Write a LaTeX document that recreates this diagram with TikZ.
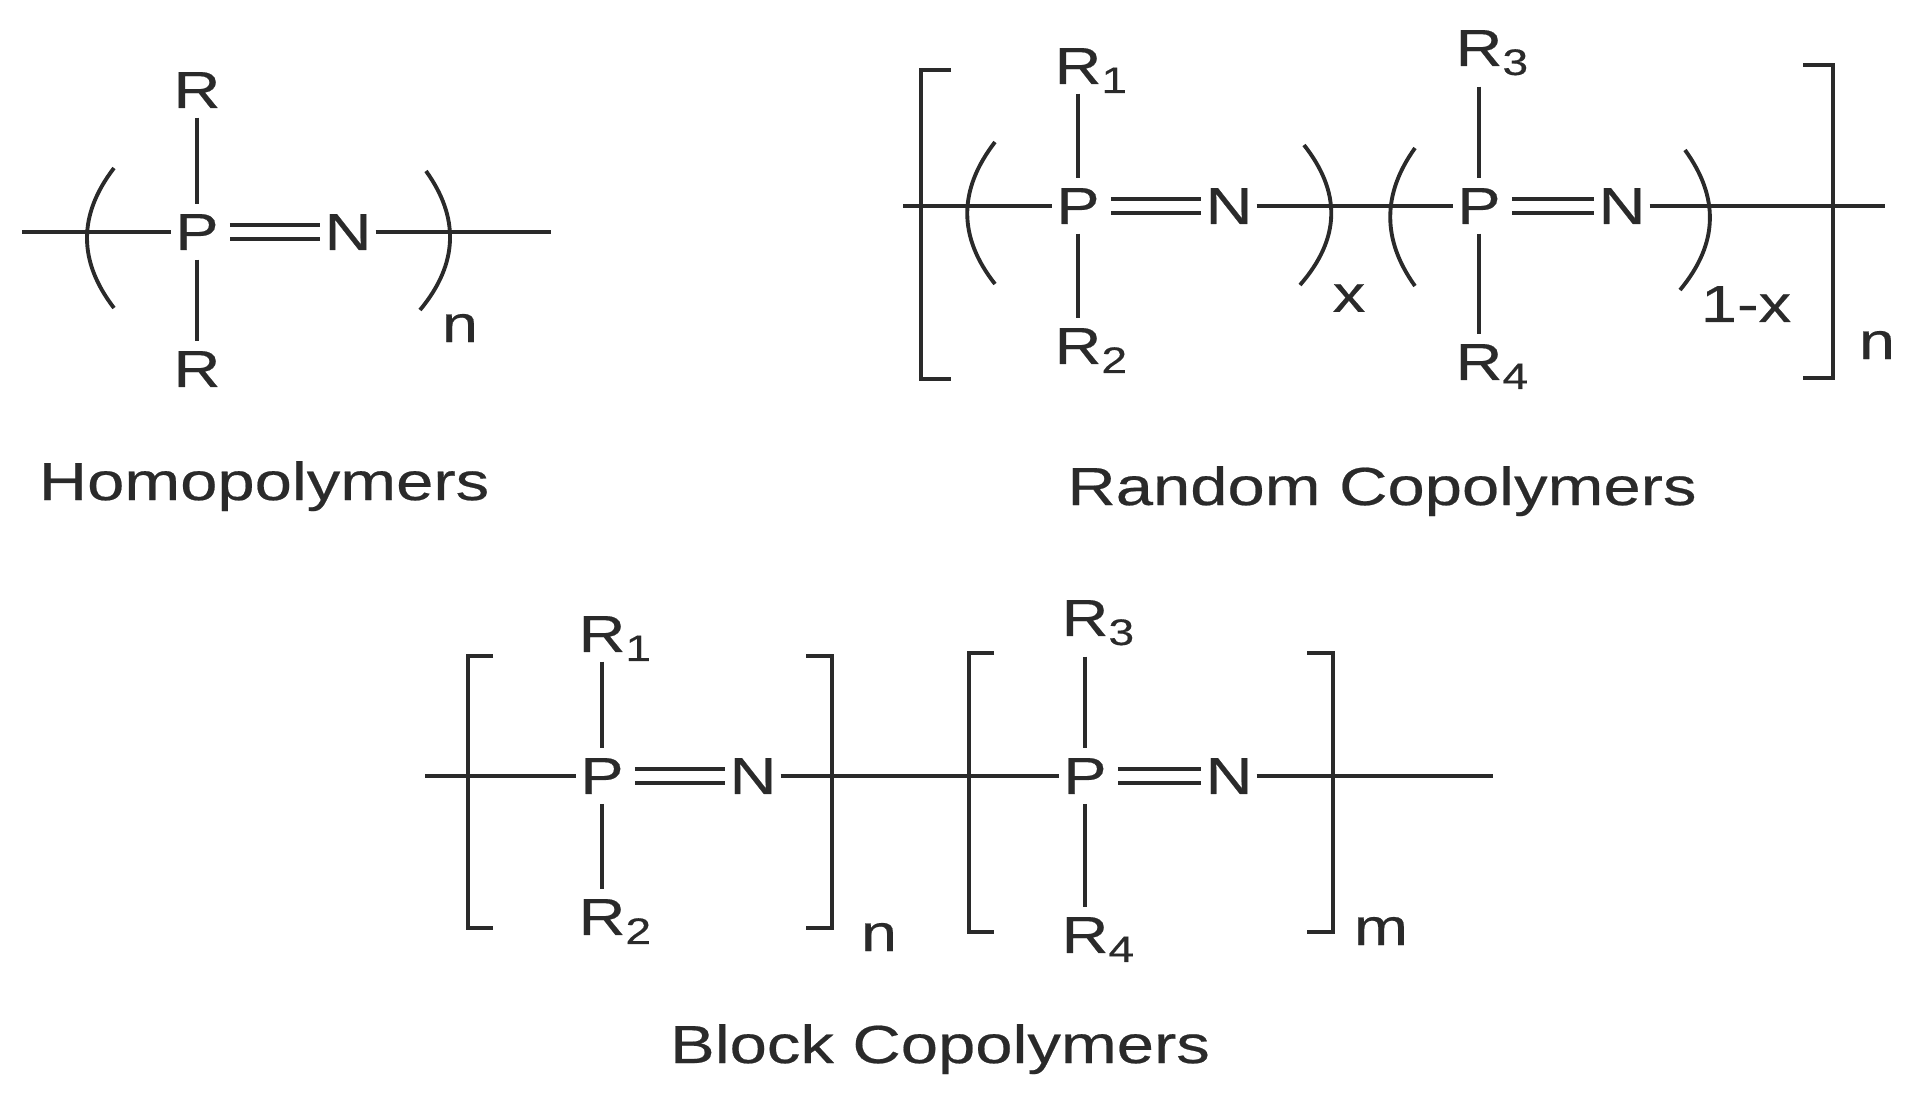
\documentclass[tikz,border=0pt]{standalone}
\usepackage{fontspec}
\setmainfont{Liberation Sans}
\newfontfamily\wideface{Liberation Sans}[FakeStretch=1.25,FakeBold=.4]
\newcommand{\rsub}[1]{R\rlap{\smash{\raisebox{-.33ex}{\fontsize{10.5}{12}\selectfont #1}}}}
\definecolor{ink}{HTML}{2A2A2A}
\tikzset{
  atom/.style={text=ink, inner xsep=1pt, inner ysep=2.6pt, font=\fontsize{14.8}{16}\selectfont\wideface},
  idx/.style={text=ink, inner sep=0pt, font=\fontsize{14.8}{16}\selectfont\wideface},
  caption/.style={text=ink, anchor=base, inner sep=0pt, font=\fontsize{15.25}{17}\selectfont\wideface},
  chain/.style={draw=ink, line width=1.3pt},
  bond/.style={draw=ink, line width=1.1pt},
  dbl/.style={draw=ink, line width=1.15pt, double, double distance=3pt, shorten <=.07cm},
  brk/.style={draw=ink, line width=1.1pt},
}
\begin{document}
\begin{tikzpicture}[node distance=1.42cm]
        \useasboundingbox (0,0) rectangle (19.10,-10.96);
        % homopolymer
        \node   (hp) [atom] at (1.97,-2.32)    {P};
        \node   (hn) [atom, right of = hp, node distance=1.51cm]    {N};
        \node   (ha) [atom, above of = hp]    {R};
        \node   (hb) [atom, below of = hp, node distance=1.37cm]    {R};
        \coordinate (hl) at (0.22,-2.32);
        \coordinate (hr) at (5.51,-2.32);
        \node   (hi) [idx] at (4.60,-3.28)    {n};
        \node   (hc) [caption] at (2.64,-5.00)    {Homopolymers};
        \draw[chain] (hl) -- (hp);
        \draw[chain] (hn) -- (hr);
        \draw[dbl] (hp) -- (hn);
        \draw[bond] (ha) -- (hp);
        \draw[bond] (hp) -- (hb);
        \draw[brk] (1.14,-1.68) .. controls (0.78,-2.15) and (0.78,-2.61) .. (1.14,-3.08);
        \draw[brk] (4.26,-1.71) .. controls (4.59,-2.17) and (4.59,-2.63) .. (4.20,-3.10);

        % random copolymer
        \node   (rp) [atom] at (10.78,-2.06)    {P};
        \node   (rn) [atom, right of = rp, node distance=1.51cm]    {N};
        \node   (ra) [atom, above of = rp, node distance=1.40cm]    {\rsub{1}};
        \node   (rb) [atom, below of = rp, node distance=1.40cm]    {\rsub{2}};
        \node   (rq) [atom] at (14.79,-2.06)    {P};
        \node   (rm) [atom, right of = rq, node distance=1.43cm]    {N};
        \node   (rc) [atom, above of = rq, node distance=1.58cm]    {\rsub{3}};
        \node   (rd) [atom, below of = rq, node distance=1.56cm]    {\rsub{4}};
        \coordinate (rl) at (9.03,-2.06);
        \coordinate (rr) at (18.85,-2.06);
        \node   (rx) [idx] at (13.49,-2.98)    {x};
        \node   (ry) [idx] at (17.46,-3.04)    {1-x};
        \node   (ri) [idx] at (18.77,-3.45)    {n};
        \node   (rt) [caption] at (13.82,-5.05)    {Random Copolymers};
        \draw[chain] (rl) -- (rp);
        \draw[chain] (rn) -- (rq);
        \draw[chain] (rm) -- (rr);
        \draw[dbl] (rp) -- (rn);
        \draw[dbl] (rq) -- (rm);
        \draw[bond] (ra) -- (rp);
        \draw[bond] (rp) -- (rb);
        \draw[bond, shorten <=.11cm] (rc) -- (rq);
        \draw[bond] (rq) -- (rd);
        \draw[brk] (9.51,-0.70) -- (9.21,-0.70) -- (9.21,-3.79) -- (9.51,-3.79);
        \draw[brk] (18.03,-0.65) -- (18.33,-0.65) -- (18.33,-3.78) -- (18.03,-3.78);
        \draw[brk] (9.95,-1.42) .. controls (9.58,-1.90) and (9.58,-2.37) .. (9.95,-2.84);
        \draw[brk] (13.04,-1.45) .. controls (13.41,-1.92) and (13.41,-2.38) .. (13.00,-2.85);
        \draw[brk] (14.15,-1.48) .. controls (13.82,-1.94) and (13.82,-2.40) .. (14.15,-2.86);
        \draw[brk] (16.85,-1.50) .. controls (17.19,-1.97) and (17.19,-2.43) .. (16.80,-2.90);

        % block copolymer
        \node   (bp) [atom] at (6.02,-7.76)    {P};
        \node   (bn) [atom, right of = bp, node distance=1.51cm]    {N};
        \node   (ba) [atom, above of = bp]    {\rsub{1}};
        \node   (bb) [atom, below of = bp, node distance=1.41cm]    {\rsub{2}};
        \node   (bq) [atom] at (10.85,-7.76)    {P};
        \node   (bm) [atom, right of = bq, node distance=1.44cm]    {N};
        \node   (bc) [atom, above of = bq, node distance=1.58cm]    {\rsub{3}};
        \node   (bd) [atom, below of = bq, node distance=1.59cm]    {\rsub{4}};
        \coordinate (bl) at (4.25,-7.76);
        \coordinate (br) at (14.93,-7.76);
        \node   (bi) [idx] at (8.79,-9.37)    {n};
        \node   (bj) [idx] at (13.81,-9.31)    {m};
        \node   (bt) [caption] at (9.40,-10.63)    {Block Copolymers};
        \draw[chain] (bl) -- (bp);
        \draw[chain] (bn) -- (bq);
        \draw[chain] (bm) -- (br);
        \draw[dbl] (bp) -- (bn);
        \draw[dbl] (bq) -- (bm);
        \draw[bond] (ba) -- (bp);
        \draw[bond] (bp) -- (bb);
        \draw[bond, shorten <=.11cm] (bc) -- (bq);
        \draw[bond] (bq) -- (bd);
        \draw[brk] (4.93,-6.56) -- (4.68,-6.56) -- (4.68,-9.28) -- (4.93,-9.28);
        \draw[brk] (8.06,-6.56) -- (8.32,-6.56) -- (8.32,-9.28) -- (8.06,-9.28);
        \draw[brk] (9.94,-6.53) -- (9.69,-6.53) -- (9.69,-9.32) -- (9.94,-9.32);
        \draw[brk] (13.07,-6.53) -- (13.33,-6.53) -- (13.33,-9.32) -- (13.07,-9.32);
    \end{tikzpicture}
\end{document}
